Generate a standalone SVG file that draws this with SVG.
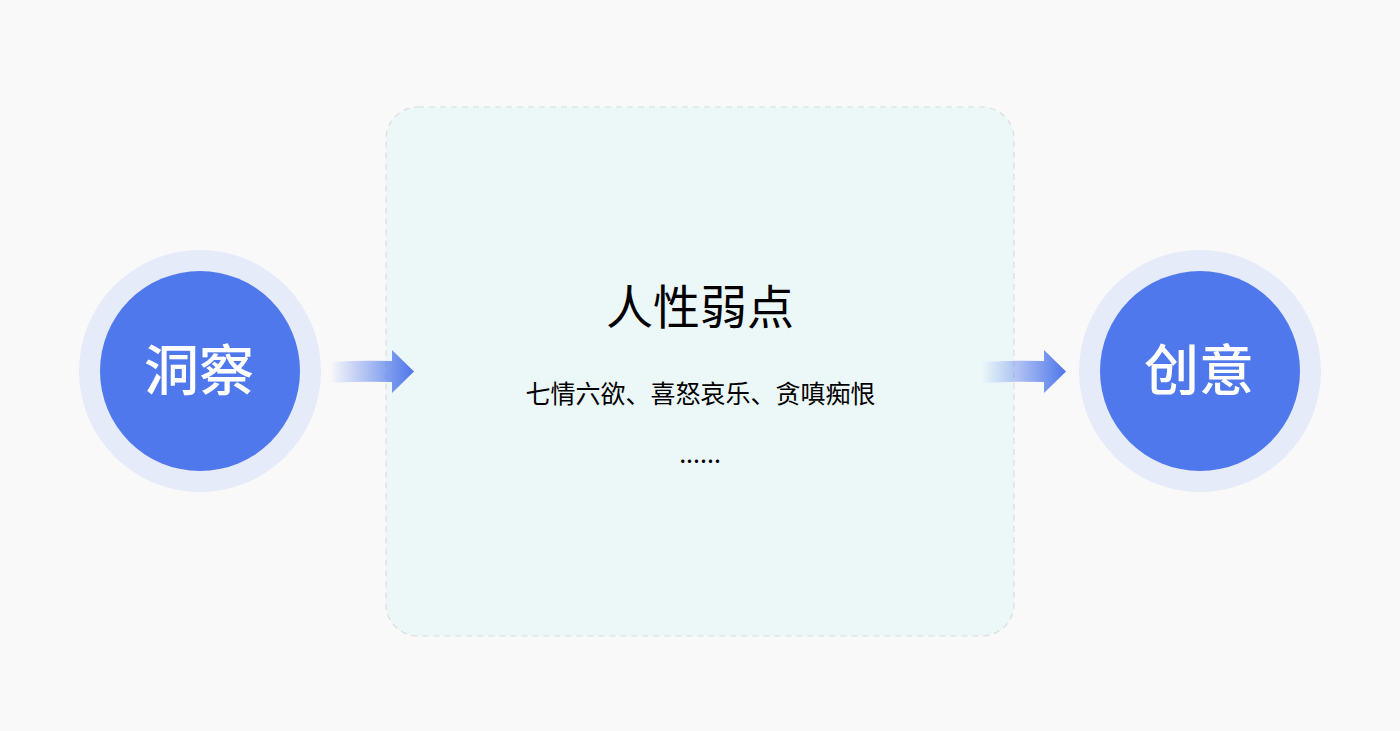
<svg xmlns="http://www.w3.org/2000/svg" width="1400" height="731" viewBox="0 0 1400 731">
<defs>
<linearGradient id="ag" x1="0" y1="0" x2="1" y2="0">
<stop offset="0" stop-color="#4e76ea" stop-opacity="0"/>
<stop offset="1" stop-color="#4e76ea" stop-opacity="1"/>
</linearGradient>
</defs>
<style>
.ring{fill:#e6ebf9}
.core{fill:#4e78eb}
.ctext{font-family:"Noto Sans CJK SC","Noto Sans",sans-serif;font-size:55px;font-weight:500;fill:#ffffff;text-anchor:middle}
.title{font-family:"Noto Sans CJK SC","Noto Sans",sans-serif;font-size:47px;font-weight:400;fill:#000000;text-anchor:middle}
.sub{font-family:"Noto Sans CJK SC","Noto Sans",sans-serif;font-size:25px;fill:#000000;text-anchor:middle}
.arrow{fill:url(#ag)}
</style>
<rect width="1400" height="731" fill="#f9f9f9"/>
<g id="box">
<rect x="386" y="107" width="628" height="529" rx="32" ry="32" fill="#ecf7f8" stroke="#d9dcdf" stroke-width="1.2" stroke-dasharray="6 5"/>
<text class="title" x="700" y="324">人性弱点</text>
<text class="sub" x="700.5" y="403">七情六欲、喜怒哀乐、贪嗔痴恨</text>
<text class="sub" x="700" y="463">......</text>
</g>
<g id="insight">
<circle class="ring" cx="200" cy="371" r="121"/>
<circle class="core" cx="200" cy="371" r="100"/>
<text class="ctext" x="199" y="390">洞察</text>
</g>
<g id="creative">
<circle class="ring" cx="1200" cy="371" r="121"/>
<circle class="core" cx="1200" cy="371" r="100"/>
<text class="ctext" x="1199" y="390">创意</text>
</g>
<g id="connectors">
<path class="arrow" d="M330,362 Q360,360 392,361 L392,350 L414,371.5 L392,393 L392,382 Q360,381 330,383 Z"/>
<path class="arrow" d="M982,362 Q1012,360 1044,361 L1044,350 L1066,371.5 L1044,393 L1044,382 Q1012,381 982,383 Z"/>
</g>
</svg>
